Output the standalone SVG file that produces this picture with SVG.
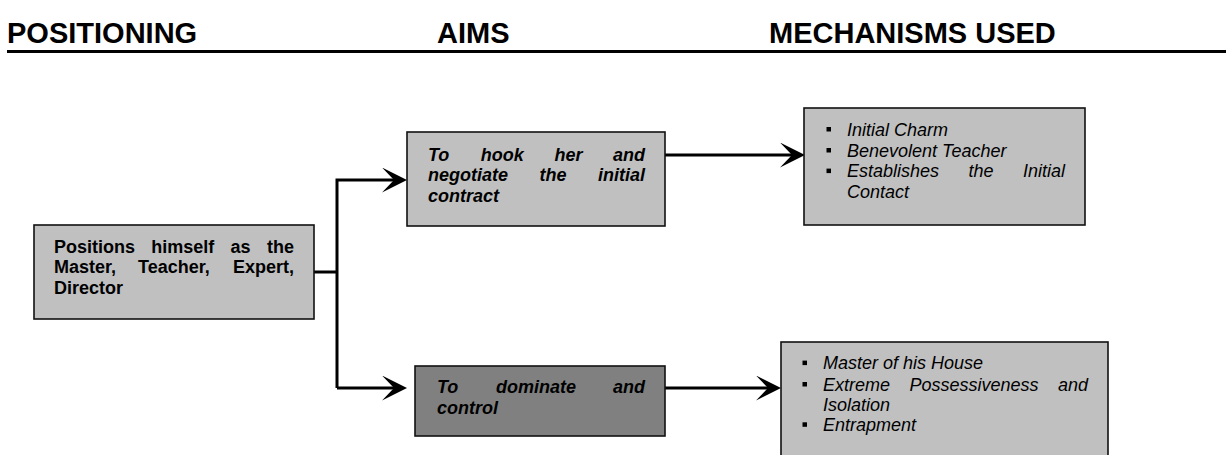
<svg xmlns="http://www.w3.org/2000/svg" width="1226" height="455" viewBox="0 0 1226 455">
<style>
.hdr{font-family:"Liberation Sans",Arial,sans-serif;font-weight:bold;font-size:29px;fill:#000}
.t{font-family:"Liberation Sans",Arial,sans-serif;font-size:18px;fill:#000}
.b{font-weight:bold}
.i{font-style:italic}
.e{text-anchor:end}
.box{stroke:#111;stroke-width:1.6}
.lt{fill:#c0c0c0}
.dk{fill:#808080}
.con{fill:none;stroke:#000;stroke-width:3;stroke-linejoin:miter}
.bul{fill:#000}
</style>
<defs>
<marker id="arr" viewBox="0 0 25 25" refX="17" refY="12.5" markerWidth="25" markerHeight="25" markerUnits="userSpaceOnUse" orient="auto">
<path d="M0,0 L25,12.5 L0,25 L12,12.5 Z" fill="#000"/>
</marker>
</defs>
<rect width="1226" height="455" fill="#fff"/>
<g id="header">
<text class="hdr" x="7" y="42.5">POSITIONING</text>
<text class="hdr" x="437" y="42.5">AIMS</text>
<text class="hdr" x="769" y="42.5">MECHANISMS USED</text>
<rect x="7" y="50" width="1219" height="3" fill="#000"/>
</g>
<g id="connectors">
<path class="con" d="M314,272 H337"/>
<path class="con" d="M337,388 V180 H399" marker-end="url(#arr)"/>
<path class="con" d="M337,388 H399" marker-end="url(#arr)"/>
<path class="con" d="M665,155 H797" marker-end="url(#arr)"/>
<path class="con" d="M665,388 H773" marker-end="url(#arr)"/>
</g>
<g id="node-positioning">
<rect class="box lt" x="34" y="225" width="280" height="94"/>
<text class="t b" x="54" y="252.7">Positions</text>
<text class="t b" x="151.3" y="252.7">himself</text>
<text class="t b" x="230.6" y="252.7">as</text>
<text class="t b e" x="294" y="252.7">the</text>
<text class="t b" x="54" y="273.4">Master,</text>
<text class="t b" x="138" y="273.4">Teacher,</text>
<text class="t b e" x="294" y="273.4">Expert,</text>
<text class="t b" x="54" y="294">Director</text>
</g>
<g id="node-hook">
<rect class="box lt" x="407" y="132" width="258" height="94"/>
<text class="t b i" x="428" y="160.7">To</text>
<text class="t b i" x="480.7" y="160.7">hook</text>
<text class="t b i" x="554.4" y="160.7">her</text>
<text class="t b i e" x="645" y="160.7">and</text>
<text class="t b i" x="428" y="181.2">negotiate</text>
<text class="t b i" x="539.5" y="181.2">the</text>
<text class="t b i e" x="645" y="181.2">initial</text>
<text class="t b i" x="428" y="201.7">contract</text>
</g>
<g id="node-dominate">
<rect class="box dk" x="415" y="366" width="250" height="70"/>
<text class="t b i" x="437" y="393.3">To</text>
<text class="t b i" x="496" y="393.3">dominate</text>
<text class="t b i e" x="645" y="393.3">and</text>
<text class="t b i" x="437" y="414">control</text>
</g>
<g id="node-mech-hook">
<rect class="box lt" x="804" y="108" width="281" height="117"/>
<rect class="bul" x="826.5" y="127" width="4.5" height="4.5"/>
<text class="t i" x="847" y="135.7">Initial Charm</text>
<rect class="bul" x="826.5" y="148" width="4.5" height="4.5"/>
<text class="t i" x="847" y="156.7">Benevolent Teacher</text>
<rect class="bul" x="826.5" y="168.6" width="4.5" height="4.5"/>
<text class="t i" x="847" y="177.3">Establishes</text>
<text class="t i" x="968.5" y="177.3">the</text>
<text class="t i e" x="1065" y="177.3">Initial</text>
<text class="t i" x="847" y="197.8">Contact</text>
</g>
<g id="node-mech-dominate">
<rect class="box lt" x="781" y="342" width="327" height="125"/>
<rect class="bul" x="802.5" y="360.6" width="4.5" height="4.5"/>
<text class="t i" x="823" y="369.3">Master of his House</text>
<rect class="bul" x="802.5" y="382" width="4.5" height="4.5"/>
<text class="t i" x="823" y="390.7">Extreme</text>
<text class="t i" x="909.5" y="390.7">Possessiveness</text>
<text class="t i e" x="1088" y="390.7">and</text>
<text class="t i" x="823" y="411">Isolation</text>
<rect class="bul" x="802.5" y="422.3" width="4.5" height="4.5"/>
<text class="t i" x="823" y="431">Entrapment</text>
</g>
</svg>
